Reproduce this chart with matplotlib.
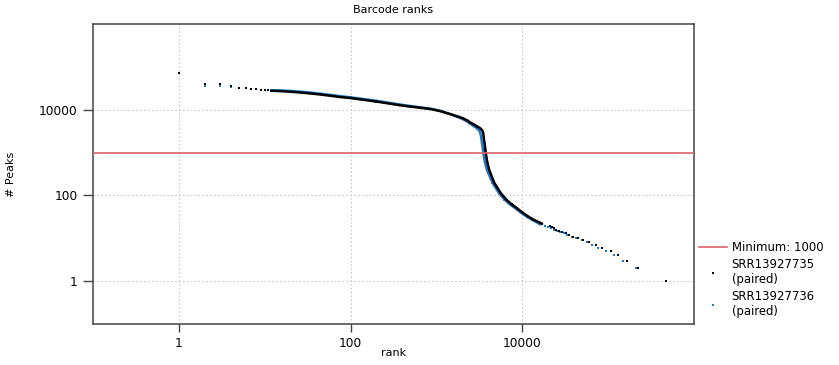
import matplotlib
matplotlib.use("Agg")
import matplotlib.pyplot as plt
from matplotlib.lines import Line2D
from matplotlib.ticker import NullLocator

# SRR13927735 (paired) - black
rank_a = [1, 2, 3, 4, 5, 6, 7, 8, 9, 10, 11, 12,
          15, 20, 30, 44, 58, 75, 100, 200, 379, 500, 650, 849, 1100, 1450, 1800,
          2040, 2300, 2490, 2750, 3000, 3200, 3400, 3500, 3560, 3640, 3720, 3850,
          4060, 4260, 4700, 5570, 6500, 7500, 8710, 10000, 11800, 13600, 17000,
          21300, 22300, 23300,
          24400, 26700, 29200, 32000, 35000, 39300, 44500, 51400, 59800, 71500,
          85500, 107000, 130000, 164000, 223000, 478000]
peaks_a = [73800, 40200, 39500, 34900, 32500, 31300, 30200, 29700, 29200, 28700, 28200, 27900,
           27200, 26300, 24600, 22700, 21200, 19800, 18700, 15500, 12700, 11800, 11100, 10400, 9300, 7900, 6900,
           6300, 5600, 5000, 4500, 4050, 3750, 3350, 2900, 2200, 1600, 1170, 700,
           430, 330, 200, 116, 80, 62, 50, 40, 32, 27, 22,
           19, 18, 17,
           16, 15, 14, 13, 12, 11, 10, 9, 8, 7,
           6, 5, 4, 3, 2, 1]

# SRR13927736 (paired) - blue
rank_b = [2, 3, 4, 5, 6, 7, 8, 9, 10, 11, 12,
          15, 20, 30, 44, 58, 75, 100, 200, 379, 500, 650, 849, 1100, 1450, 1750,
          2000, 2250, 2450, 2650, 2850, 3000, 3130, 3240, 3330, 3400, 3480, 3600,
          3830, 4030, 4480, 5300, 6200, 7150, 8300, 9600, 11300, 13000, 16300,
          18500, 19800, 21500,
          23200, 25400, 27700, 30400, 33300, 37500, 42500, 50000, 56100, 65300,
          76700, 93500, 117000, 150000, 209000]
peaks_b = [34900, 34900, 33500, 32500, 31500, 30500, 30000, 29500, 29000, 28700, 28300,
           28200, 27500, 25800, 23800, 22200, 20800, 19500, 16200, 13200, 12200, 11400, 10600, 9500, 7900, 6800,
           6100, 5400, 4800, 4300, 3900, 3600, 3300, 2900, 2200, 1600, 1170, 700,
           420, 330, 200, 116, 80, 62, 50, 40, 32, 27, 21,
           19, 18, 17,
           16, 15, 14, 13, 12, 11, 10, 9, 8, 7,
           6, 5, 4, 3, 2]

min_peaks = 1000
labels = ["SRR13927735\n(paired)", "SRR13927736\n(paired)"]
colors = ["#000000", "#1f7ac4"]

fig = plt.figure(figsize=(8.39, 3.65), dpi=100)
ax = fig.add_axes([0.1108, 0.1123, 0.7164, 0.8219])

for rank, peaks, c, z in [(rank_b, peaks_b, colors[1], 2), (rank_a, peaks_a, colors[0], 2.5)]:
    # the dense middle part reads as a solid line
    body = [(r, p) for r, p in zip(rank, peaks) if 12 <= r <= 17000]
    ax.plot([r for r, _ in body], [p for _, p in body], color=c, lw=1.8, zorder=z,
            solid_capstyle="round", solid_joinstyle="round")
    ax.plot(rank, peaks, ls="none", marker="s", ms=1.7, mew=0, color=c, zorder=z)

ax.axhline(min_peaks, color="#d9646b", lw=1.2, zorder=3)

ax.set_xscale("log")
ax.set_yscale("log")
ax.set_xlim(0.1, 1e6)
ax.set_ylim(0.1, 1e6)
ax.set_xticks([1, 100, 10000])
ax.set_xticklabels(["1", "100", "10000"])
ax.set_yticks([1, 100, 10000])
ax.set_yticklabels(["1", "100", "10000"])
ax.xaxis.set_minor_locator(NullLocator())
ax.yaxis.set_minor_locator(NullLocator())
ax.grid(True, ls=(0, (1.5, 2)), color="#c8c8c8", lw=0.8)

for sp in ax.spines.values():
    sp.set_color("#444444")
    sp.set_linewidth(1.1)
ax.tick_params(axis="y", length=7, width=1, color="#444444", labelsize=8.8, pad=4)
ax.tick_params(axis="x", length=5.5, width=1, color="#444444", labelsize=8.8, pad=4)

ax.set_title("Barcode ranks", fontsize=8, pad=8)
ax.set_xlabel("rank", fontsize=8)
ax.set_ylabel("# Peaks", fontsize=8)
ax.xaxis.set_label_coords(0.5, -0.08)
ax.yaxis.set_label_coords(-0.128, 0.5)

handles = [
    Line2D([], [], color="#d9646b", lw=1.2),
    Line2D([], [], ls="none", marker="s", ms=1.7, mew=0, color=colors[0]),
    Line2D([], [], ls="none", marker="s", ms=1.7, mew=0, color=colors[1]),
]
fig.legend(handles, ["Minimum: 1000"] + labels, loc="upper left",
           bbox_to_anchor=(0.826, 0.355), frameon=False, fontsize=8.4,
           handlelength=2.4, handletextpad=0.4, labelspacing=0.35, borderpad=0)

fig.savefig("out.png", dpi=100)
